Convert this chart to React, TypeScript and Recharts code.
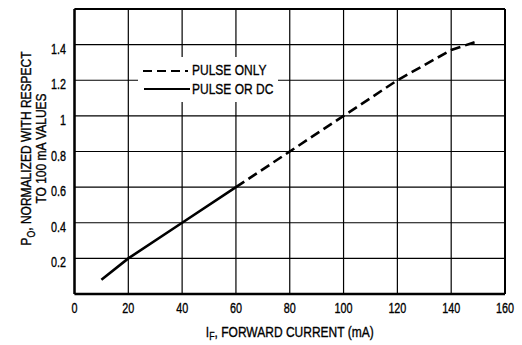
import { CartesianGrid, Line, LineChart, ReferenceLine, XAxis, YAxis } from "recharts";

const currents = [10, 20, 40, 60, 80, 100, 120, 140, 150];
const pulseOrDc = [0.08, 0.2, 0.4, 0.6, null, null, null, null, null];
const pulseOnly = [null, null, null, 0.6, 0.8, 1.0, 1.2, 1.37, 1.42];
const xTicks = [0, 20, 40, 60, 80, 100, 120, 140, 160];
const yTicks = [0, 0.2, 0.4, 0.6, 0.8, 1, 1.2, 1.4, 1.6];

const data = currents.map((c, i) => ({ c, solid: pulseOrDc[i], dashed: pulseOnly[i] }));

const FONT = "'Liberation Sans', Arial, sans-serif";

// condensed text: scale horizontally around the anchor point
function NarrowText({ x, y, sx, anchor, size = 15, children }: any) {
  return (
    <text
      transform={`translate(${x},${y}) scale(${sx},1)`}
      textAnchor={anchor}
      fontFamily={FONT}
      fontSize={size}
      fill="#000"
      stroke="#000"
      strokeWidth={0.35}
    >
      {children}
    </text>
  );
}

function XTick(props: any) {
  const { x, payload } = props;
  return (
    <NarrowText x={x} y={313} sx={0.72} anchor="middle">
      {String(payload.value)}
    </NarrowText>
  );
}

function YTick(props: any) {
  const { y, payload } = props;
  const v = payload.value;
  if (v === 0 || v === 1.6) return null;
  return (
    <NarrowText x={66} y={y + 9} sx={0.72} anchor="end">
      {String(v)}
    </NarrowText>
  );
}

function YLabel(props: any) {
  const { viewBox } = props;
  const cy = viewBox.y + viewBox.height / 2 - 3;
  return (
    <g transform={`rotate(-90, 0, ${cy})`}>
      <NarrowText x={0} y={cy + 31} sx={0.8} anchor="middle">
        P<tspan fontSize={11} dy={4}>O</tspan>
        <tspan dy={-4}>, NORMALIZED WITH RESPECT</tspan>
      </NarrowText>
      <NarrowText x={0} y={cy + 46} sx={0.8} anchor="middle">
        TO 100 mA VALUES
      </NarrowText>
    </g>
  );
}

function XLabel(props: any) {
  const { viewBox } = props;
  const cx = viewBox.x + viewBox.width / 2;
  return (
    <NarrowText x={cx} y={337} sx={0.8} anchor="middle">
      I<tspan fontSize={11} dy={3}>F</tspan>
      <tspan dy={-3}>, FORWARD CURRENT (mA)</tspan>
    </NarrowText>
  );
}

function LegendBox() {
  return (
    <div style={{ position: "absolute", left: 138, top: 57, width: 140, height: 45, background: "#fff" }}>
      <svg width={140} height={45}>
        <line x1={5} y1={14} x2={50} y2={14} stroke="#000" strokeWidth={2} strokeDasharray="9 5" />
        <NarrowText x={54} y={18} sx={0.8} anchor="start">PULSE ONLY</NarrowText>
        <line x1={6} y1={32} x2={52} y2={32} stroke="#000" strokeWidth={2} />
        <NarrowText x={54} y={37} sx={0.8} anchor="start">PULSE OR DC</NarrowText>
      </svg>
    </div>
  );
}

export default function App() {
  return (
    <div style={{ position: "absolute", left: 0, top: 0, width: 522, height: 345, background: "#fff" }}>
      <LineChart width={522} height={345} data={data} margin={{ top: 9, right: 17, left: 0, bottom: 0 }}>
        <CartesianGrid stroke="#000" strokeWidth={1.2} strokeOpacity={1} />
        <XAxis
          dataKey="c"
          type="number"
          domain={[0, 160]}
          ticks={xTicks}
          height={51}
          stroke="#000"
          strokeWidth={2.5}
          tickLine={false}
          tick={<XTick />}
          label={<XLabel />}
        />
        <YAxis
          type="number"
          domain={[0, 1.6]}
          ticks={yTicks}
          width={74.5}
          stroke="#000"
          strokeWidth={2.5}
          tickLine={false}
          tick={<YTick />}
          label={<YLabel />}
        />
        <ReferenceLine x={160} stroke="#000" strokeWidth={2} />
        <ReferenceLine y={1.6} stroke="#000" strokeWidth={2} />
        <Line
          dataKey="solid"
          stroke="#000"
          strokeWidth={2.6}
          dot={false}
          isAnimationActive={false}
        />
        <Line
          dataKey="dashed"
          stroke="#000"
          strokeWidth={2.6}
          strokeDasharray="10 5"
          dot={false}
          isAnimationActive={false}
        />
      </LineChart>
      <LegendBox />
    </div>
  );
}
